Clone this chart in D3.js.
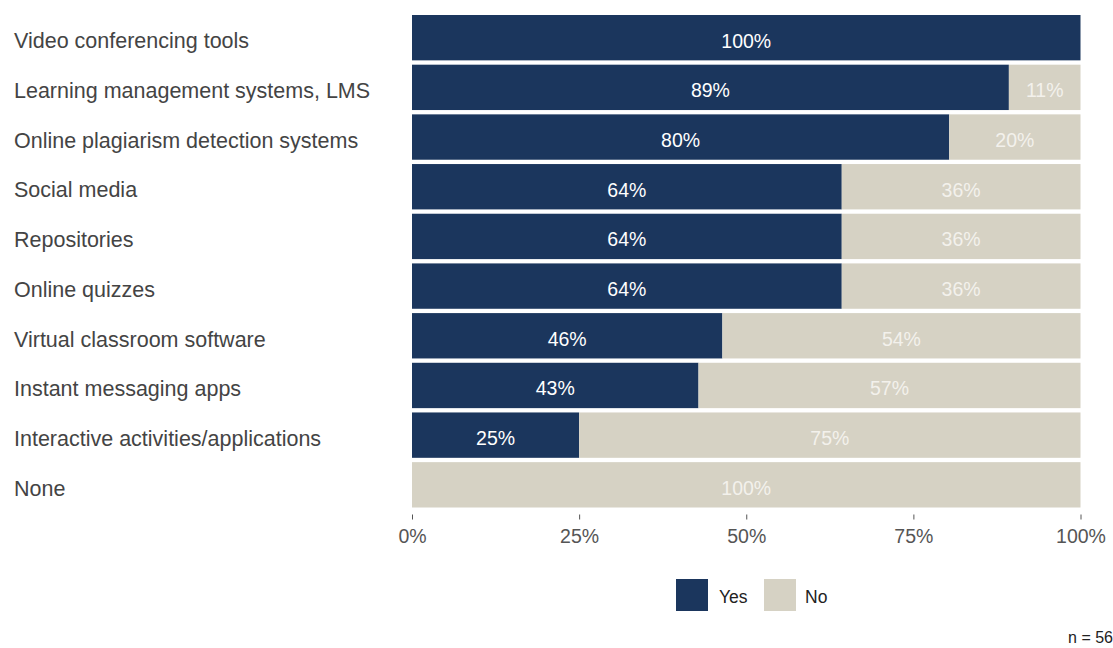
<!DOCTYPE html>
<html>
<head>
<meta charset="utf-8">
<script src="https://cdn.jsdelivr.net/npm/d3@7"></script>
<style>
  body { margin: 0; background: #fff; }
  svg { display: block; font-family: "Liberation Sans", Arial, sans-serif; }
</style>
</head>
<body>
<svg id="chart" width="1113" height="648"></svg>
<script>
// Respondents (n = 56) using each digital tool, as counts of Yes / No answers
const categories = [
  "Video conferencing tools",
  "Learning management systems, LMS",
  "Online plagiarism detection systems",
  "Social media",
  "Repositories",
  "Online quizzes",
  "Virtual classroom software",
  "Instant messaging apps",
  "Interactive activities/applications",
  "None"
];
const yesCounts = [56, 50, 45, 36, 36, 36, 26, 24, 14, 0];
const noCounts  = [0, 6, 11, 20, 20, 20, 30, 32, 42, 56];
const xTicks = [0, 25, 50, 75, 100];
const seriesNames = ["Yes", "No"];
const sampleSize = 56;

const colors = { Yes: "#1b365d", No: "#d6d2c4" };
const labelColors = { Yes: "#ffffff", No: "#f3f1ec" };

const svg = d3.select("#chart");

const x = d3.scaleLinear().domain([0, 100]).range([412, 1080.5]);
const y = d3.scaleBand()
  .domain(categories)
  .range([15, 507.5])
  .paddingInner(0.087)
  .paddingOuter(0);

const pct = c => c / sampleSize * 100;

const rows = categories.map((c, i) => {
  const yes = pct(yesCounts[i]);
  const no = pct(noCounts[i]);
  return {
    cat: c,
    segs: [
      { key: "Yes", x0: 0, x1: yes, v: yes },
      { key: "No", x0: yes, x1: yes + no, v: no }
    ]
  };
});

const g = svg.append("g");
const row = g.selectAll("g.row").data(rows).join("g")
  .attr("class", "row")
  .attr("transform", d => `translate(0,${y(d.cat)})`);

row.selectAll("rect").data(d => d.segs.filter(s => s.v > 0)).join("rect")
  .attr("x", s => x(s.x0))
  .attr("width", s => x(s.x1) - x(s.x0))
  .attr("y", 0)
  .attr("height", y.bandwidth())
  .attr("fill", s => colors[s.key]);

row.selectAll("text.val").data(d => d.segs.filter(s => s.v > 0)).join("text")
  .attr("class", "val")
  .attr("x", s => (x(s.x0) + x(s.x1)) / 2)
  .attr("y", y.bandwidth() / 2 + 3)
  .attr("dy", "0.36em")
  .attr("text-anchor", "middle")
  .attr("font-size", 19.5)
  .attr("fill", s => labelColors[s.key])
  .text(s => Math.round(s.v) + "%");

// Category labels
g.selectAll("text.cat").data(categories).join("text")
  .attr("class", "cat")
  .attr("x", 14)
  .attr("y", d => y(d) + y.bandwidth() / 2 + 3)
  .attr("dy", "0.36em")
  .attr("font-size", 21.5)
  .attr("fill", "#444")
  .text(d => d);

// X axis
const axis = svg.append("g")
  .attr("transform", "translate(0,514.5)")
  .call(d3.axisBottom(x).tickValues(xTicks).tickFormat(d => d + "%").tickSize(5).tickPadding(10));
axis.select(".domain").remove();
axis.selectAll(".tick line").attr("stroke", "#555");
axis.selectAll(".tick text")
  .attr("font-size", 19.5)
  .attr("fill", "#555")
  .attr("font-family", "Liberation Sans, Arial, sans-serif");

// Legend
const legend = svg.append("g").attr("transform", "translate(676,579)");
const items = [{ k: seriesNames[0], x: 0, tx: 43 }, { k: seriesNames[1], x: 88, tx: 129 }];
legend.selectAll("rect").data(items).join("rect")
  .attr("x", d => d.x).attr("y", 0)
  .attr("width", 32).attr("height", 32)
  .attr("fill", d => colors[d.k]);
legend.selectAll("text").data(items).join("text")
  .attr("x", d => d.tx).attr("y", 18)
  .attr("dy", "0.36em")
  .attr("font-size", 17.5)
  .attr("fill", "#222")
  .text(d => d.k);

svg.append("text")
  .attr("x", 1113).attr("y", 643)
  .attr("text-anchor", "end")
  .attr("font-size", 16)
  .attr("fill", "#222")
  .text("n = " + sampleSize);
</script>
</body>
</html>
